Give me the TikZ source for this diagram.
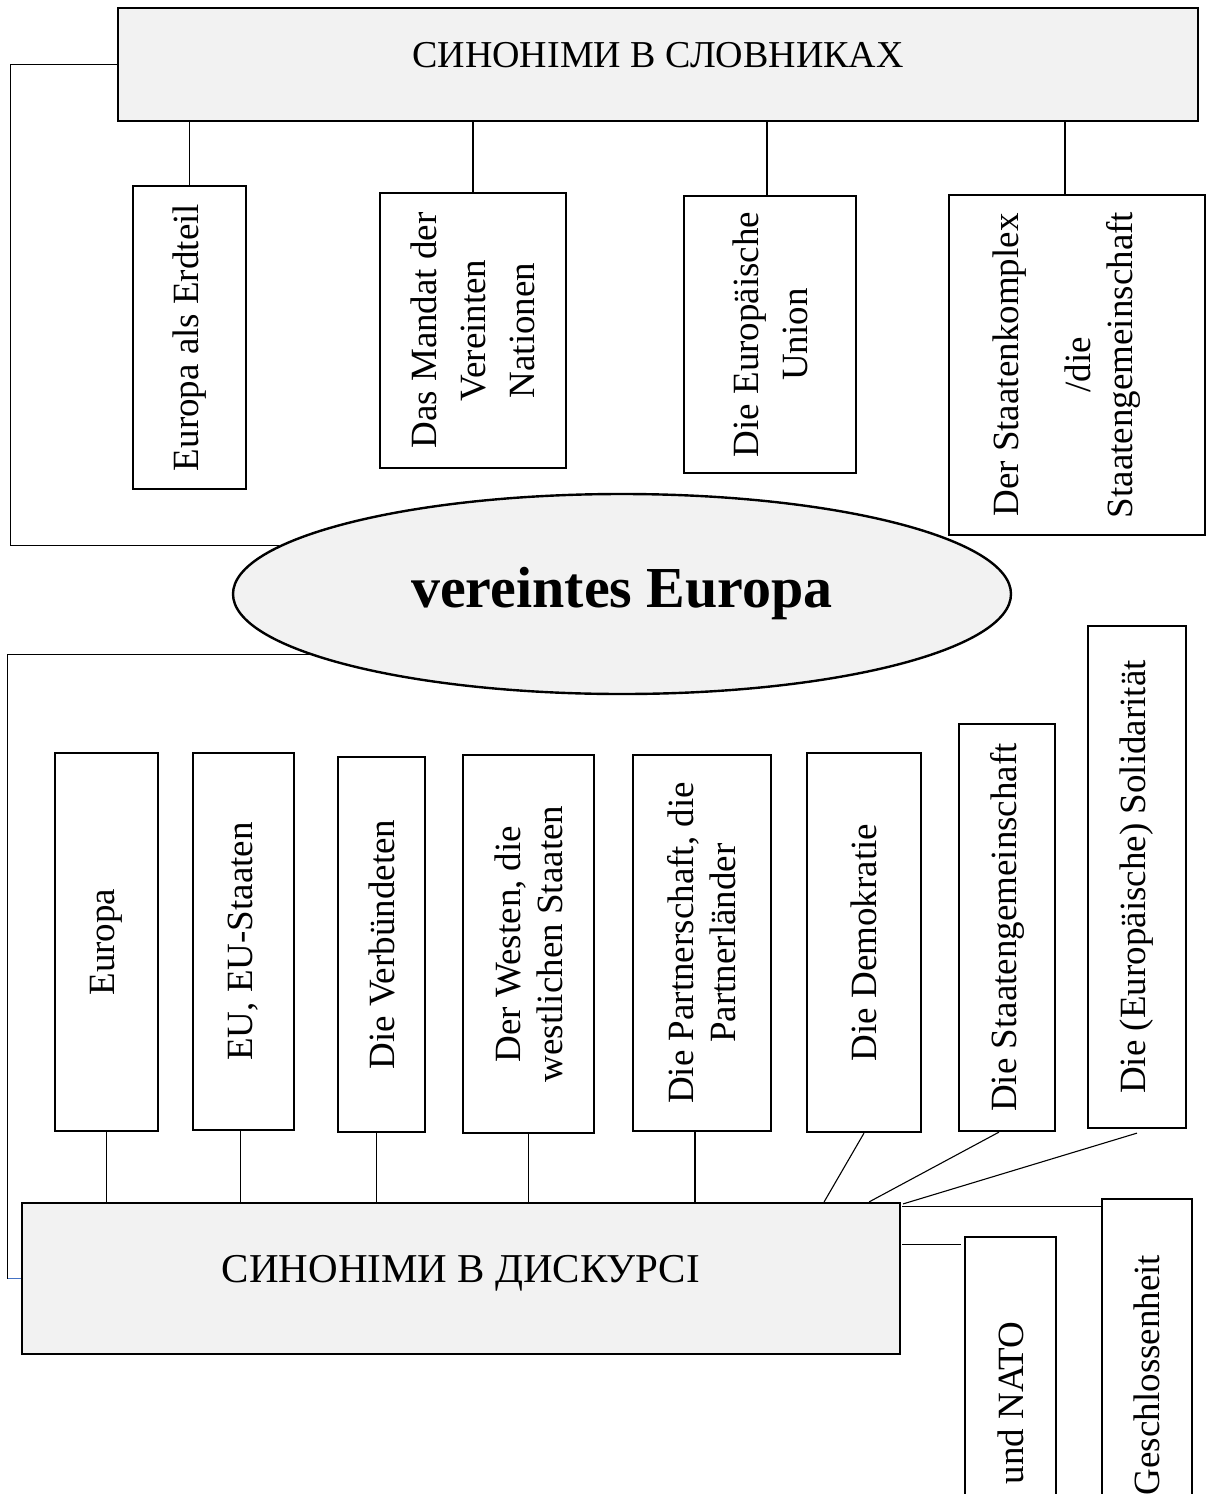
\documentclass[tikz,border=0pt]{standalone}
\usepackage{fontspec}
\setmainfont{Liberation Serif}
\usetikzlibrary{shapes.geometric,calc}
\definecolor{boxgray}{HTML}{F2F2F2}
\definecolor{tickblue}{HTML}{4472C4}
\newcommand{\boxfont}{\fontsize{37}{49}\selectfont}
\newcommand{\lowfont}{\fontsize{37}{42}\selectfont}
\tikzstyle{title} = [rectangle, draw, line width=2.2pt, fill=boxgray, inner sep=0pt,
    text depth=20pt, font=\fontsize{38}{44}\selectfont]
\tikzstyle{block} = [rectangle, draw, line width=2.2pt, fill=white, inner sep=0pt]
\tikzstyle{vtext} = [rotate=90, align=center, font=\boxfont]
\tikzstyle{vlow} = [rotate=90, align=center, font=\lowfont]
\tikzstyle{line} = [draw, line width=1.1pt]

\begin{document}
\begin{tikzpicture}[x=1pt, y=-1pt]
    \useasboundingbox (0,0) rectangle (1220,1494);
    \clip (0,0) rectangle (1220,1494);
    \fill [white] (0,0) rectangle (1220,1494);
    % Place nodes
    \node [title, minimum width=1080pt, minimum height=113pt] (dict) at (658,64.5) {СИНОНІМИ В СЛОВНИКАХ};
    \node [block, minimum width=113pt, minimum height=303pt, label={[vtext]center:Europa als Erdteil}] (erdteil) at (189.5,337.5) {};
    \node [block, minimum width=186pt, minimum height=275pt, label={[vtext]center:{Das Mandat der\\Vereinten\\Nationen}}] (mandat) at (473,330.5) {};
    \node [block, minimum width=172pt, minimum height=277pt, label={[vtext]center:{Die Europäische\\Union}}] (union) at (770,334.5) {};
    \node [block, minimum width=256pt, minimum height=340pt, label={[vtext, yshift=10pt]center:{Der Staatenkomplex\\[23pt]/die\\[-7pt]Staatengemeinschaft}}] (komplex) at (1077,365) {};
    \node [ellipse, draw, line width=2.4pt, fill=boxgray, minimum width=778pt, minimum height=200pt, inner sep=0pt,
        font=\bfseries\fontsize{58}{60}\selectfont] (eu) at (622,594) {vereintes Europa};
    \node [block, minimum width=103pt, minimum height=378pt, label={[vlow]center:Europa}] (europa) at (106.5,942) {};
    \node [block, minimum width=101pt, minimum height=377pt, label={[vlow]center:{EU, EU-Staaten}}] (eustaaten) at (243.5,941.5) {};
    \node [block, minimum width=87pt, minimum height=375pt, label={[vlow]center:Die Verbündeten}] (verb) at (381.5,944.5) {};
    \node [block, minimum width=131pt, minimum height=378pt, label={[vlow]center:{Der Westen, die\\westlichen Staaten}}] (westen) at (528.5,944) {};
    \node [block, minimum width=138pt, minimum height=376pt, label={[vlow]center:{Die Partnerschaft, die\\Partnerländer}}] (partner) at (702,943) {};
    \node [block, minimum width=114pt, minimum height=379pt, label={[vlow]center:Die Demokratie}] (demokr) at (864,942.5) {};
    \node [block, minimum width=96pt, minimum height=407pt, label={[vlow]center:Die Staatengemeinschaft}] (staatgem) at (1007,927.5) {};
    \node [block, minimum width=98pt, minimum height=502pt, label={[vlow]center:Die (Europäische) Solidarität}] (solid) at (1137,877) {};
    \node [title, minimum width=878pt, minimum height=151pt, font=\fontsize{41}{48}\selectfont] (disc) at (461,1278.5) {СИНОНІМИ В ДИСКУРСІ};
    \node [block, minimum width=91pt, minimum height=332pt, label={[vlow]center:und NATO}] (nato) at (1010.5,1403) {};
    \node [block, minimum width=90pt, minimum height=352pt, label={[vlow]center:Geschlossenheit}] (geschl) at (1147,1375) {};
    \coordinate (dl) at ([xshift=-13pt]disc.west);
    % Draw edges
    \path [line] (dict.south -| erdteil.north) -- (erdteil.north);
    \path [line] (dict.south -| mandat.north) -- (mandat.north);
    \path [line] ($(dict.south -| union.north)+(-3,0)$) -- ($(union.north)+(-3,0)$);
    \path [line] ($(dict.south -| komplex.north)+(-12,0)$) -- ($(komplex.north)+(-12,0)$);
    \path [line] (dict.west) -- ++(-106,0) |- (eu.172);
    \path [line] (eu.191) -| (dl);
    \path [draw, tickblue, line width=1.1pt] (dl) -- (disc.west);
    \path [line] (europa.south) -- (europa.south |- disc.north);
    \path [line] ($(eustaaten.south)+(-3,0)$) -- ($(eustaaten.south |- disc.north)+(-3,0)$);
    \path [line] ($(verb.south)+(-5,0)$) -- ($(verb.south |- disc.north)+(-5,0)$);
    \path [line] (westen.south) -- (westen.south |- disc.north);
    \path [line] ($(partner.south)+(-7,0)$) -- ($(partner.south |- disc.north)+(-7,0)$);
    \path [line] (demokr.south) -- ($(disc.north east)+(-77,0)$);
    \path [line] ($(staatgem.south)+(-8,0)$) -- ($(disc.north east)+(-32,0)$);
    \path [line] ($(solid.south)+(0,4)$) -- ($(disc.north east)+(2,2)$);
    \path [line] ($(geschl.north west)+(0,9)$) -- ($(disc.east |- geschl.north west)+(1,9)$);
    \path [line] ($(nato.north west)+(-3,9)$) -- ($(disc.east |- nato.north west)+(1,9)$);
\end{tikzpicture}
\end{document}
